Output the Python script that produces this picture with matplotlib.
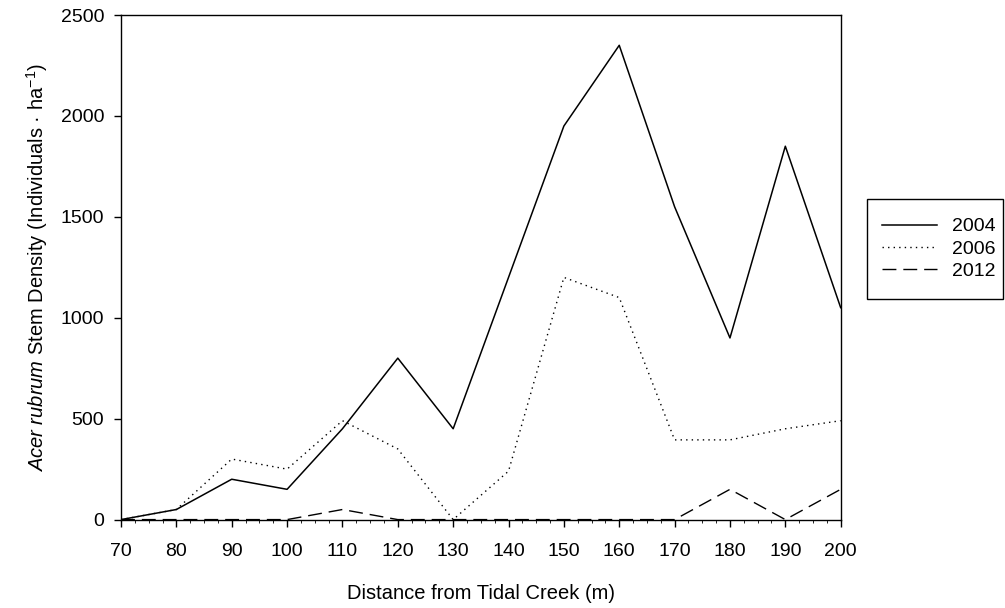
import matplotlib
matplotlib.use("Agg")
import matplotlib.pyplot as plt
from matplotlib.patches import Rectangle
from matplotlib.ticker import MultipleLocator

plt.rcParams["font.family"] = ["Liberation Sans", "DejaVu Sans"]
plt.rcParams["mathtext.fontset"] = "custom"
plt.rcParams["mathtext.rm"] = "Liberation Sans"
plt.rcParams["mathtext.it"] = "Liberation Sans:italic"

# Distance from tidal creek (m)
distance = [70, 80, 90, 100, 110, 120, 130, 140, 150, 160, 170, 180, 190, 200]

# Stem density (individuals per ha) by survey year
density_2004 = [0, 50, 200, 150, 450, 800, 450, 1200, 1950, 2350, 1550, 900, 1850, 1050]
density_2006 = [0, 50, 300, 250, 490, 350, 0, 240, 1200, 1100, 395, 395, 450, 490]
density_2012 = [0, 0, 0, 0, 50, 0, 0, 0, 0, 0, 0, 150, 0, 150]

years = ["2004", "2006", "2012"]
x_ticks = list(range(70, 201, 10))
y_ticks = list(range(0, 2501, 500))

W, H = 1005, 608
fig = plt.figure(figsize=(W / 100, H / 100), dpi=100)
ax = fig.add_axes([0.1204, 0.1454, 0.7161, 0.8299])

ax.plot(distance, density_2004, color="black", lw=1.1, label=years[0])
ax.plot(distance, density_2006, color="black", lw=1.0,
        linestyle=(0, (1, 3)), label=years[1])
ax.plot(distance, density_2012, color="black", lw=1.0,
        linestyle=(0, (10, 5)), label=years[2])

ax.set_xlim(70, 200)
ax.set_ylim(0, 2500)
ax.set_xticks(x_ticks)
ax.set_yticks(y_ticks)
ax.xaxis.set_minor_locator(MultipleLocator(2.5))
ax.tick_params(axis="both", which="major", direction="out", length=5,
               width=1, labelsize=14)
ax.tick_params(axis="x", which="minor", direction="out", length=2, width=0.6)
ax.tick_params(axis="x", which="major", pad=12)
ax.tick_params(axis="y", which="major", pad=7)
for spine in ax.spines.values():
    spine.set_linewidth(1.0)

ax.set_xlabel("Distance from Tidal Creek (m)", fontsize=14.5, labelpad=17)
ax.set_ylabel(r"$\it{Acer\ rubrum}$ Stem Density (Individuals · ha$^{-1}$)",
              fontsize=14.5, labelpad=8)

# Legend entries, with a separate box drawn around them
leg = ax.legend(loc="center left", bbox_to_anchor=(882 / W, 1 - 249 / H),
                bbox_transform=fig.transFigure, fontsize=14,
                frameon=False, handlelength=2.85, handletextpad=0.75,
                labelspacing=0.25, borderpad=0, borderaxespad=0)
fig.patches.append(Rectangle((867 / W, 1 - 299 / H), 136 / W, 100 / H,
                             transform=fig.transFigure, fill=False,
                             edgecolor="black", linewidth=1.0))

fig.savefig("out.png", dpi=100)
